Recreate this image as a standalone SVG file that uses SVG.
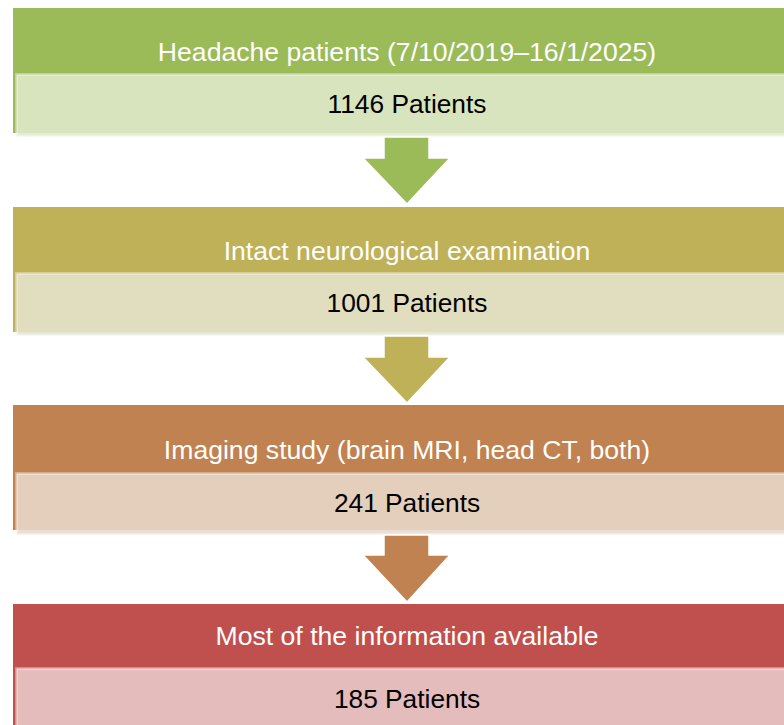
<svg xmlns="http://www.w3.org/2000/svg" width="784" height="725" viewBox="0 0 784 725">
<style>
.hd{font-family:"Liberation Sans",Arial,sans-serif;font-size:26.6px;fill:#FFFFFF;text-anchor:middle}
.sb{font-family:"Liberation Sans",Arial,sans-serif;font-size:26.3px;fill:#000000;text-anchor:middle}
.sub{fill-opacity:0.87;stroke:#FFFFFF;stroke-opacity:0.35;stroke-width:3}
.arr{stroke:#FFFFFF;stroke-width:1.5;stroke-linejoin:miter}
</style>
<rect width="784" height="725" fill="#FFFFFF"/>
<g id="node1">
<rect x="13" y="8" width="790" height="125" fill="#9BBB59"/>
<rect class="sub" x="16.5" y="74.5" width="790" height="62" fill="#E0EACC"/>
<text class="hd" x="407" y="61">Headache patients (7/10/2019–16/1/2025)</text>
<text class="sb" x="407" y="113">1146 Patients</text>
</g>
<g id="node2">
<rect x="13" y="207" width="790" height="125" fill="#BFB157"/>
<rect class="sub" x="16.5" y="273.5" width="790" height="62" fill="#E6E4CF"/>
<text class="hd" x="407" y="260">Intact neurological examination</text>
<text class="sb" x="407" y="312">1001 Patients</text>
</g>
<g id="node3">
<rect x="13" y="405" width="790" height="125" fill="#BF8250"/>
<rect class="sub" x="16.5" y="473.5" width="790" height="61" fill="#E8DACC"/>
<text class="hd" x="407" y="459">Imaging study (brain MRI, head CT, both)</text>
<text class="sb" x="407" y="512">241 Patients</text>
</g>
<g id="node4">
<rect x="13" y="604" width="790" height="125" fill="#C0504D"/>
<rect class="sub" x="16.5" y="668.5" width="790" height="62" fill="#E9CDCC"/>
<text class="hd" x="407" y="645">Most of the information available</text>
<text class="sb" x="407" y="708">185 Patients</text>
</g>
<g id="connectors">
<polygon class="arr" fill="#9BBB59" points="384,137 429,137 429,158 450,158 407,204 363,158 384,158"/>
<polygon class="arr" fill="#BFB157" points="384,336 429,336 429,357 450,357 407,403 363,357 384,357"/>
<polygon class="arr" fill="#BF8250" points="384,535 429,535 429,555 450,555 407,602 363,555 384,555"/>
</g>
</svg>
